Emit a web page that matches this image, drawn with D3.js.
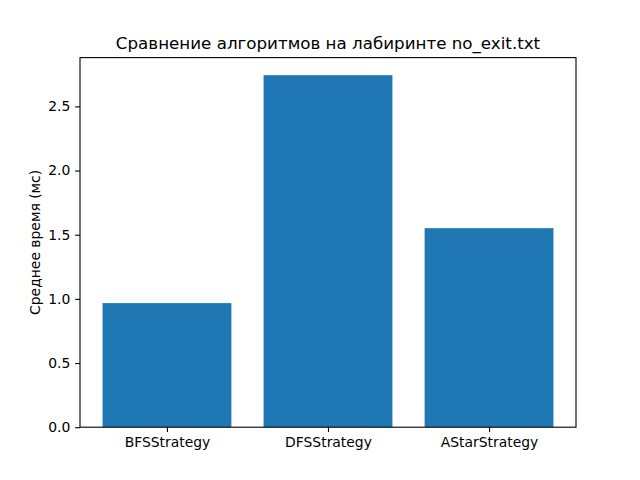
<!DOCTYPE html>
<html><head><meta charset="utf-8">
<script src="https://cdn.jsdelivr.net/npm/d3@7"></script>
<style>body{margin:0;background:#fff}svg{display:block}text{font-family:"DejaVu Sans",sans-serif}</style>
</head><body>
<script>
const categories = ["BFSStrategy", "DFSStrategy", "AStarStrategy"];
const values = [0.967, 2.743, 1.551];
const yTicks = [0, 0.5, 1.0, 1.5, 2.0, 2.5];
const title = "Сравнение алгоритмов на лабиринте no_exit.txt";
const yLabel = "Среднее время (мс)";

const W = 640, H = 480;
const L = 80, R = 576, T = 57.6, B = 427.2;
const svg = d3.select("body").append("svg").attr("width", W).attr("height", H);

const bw = 0.8;
const x0 = -bw/2, x1 = categories.length - 1 + bw/2;
const mx = (x1 - x0) * 0.05;
const x = d3.scaleLinear().domain([x0 - mx, x1 + mx]).range([L, R]);
const ymax = d3.max(values) * 1.05;
const y = d3.scaleLinear().domain([0, ymax]).range([B, T]);

svg.append("g").selectAll("rect").data(values).join("rect")
  .attr("x", (d,i) => x(i - bw/2))
  .attr("width", (d,i) => x(i + bw/2) - x(i - bw/2))
  .attr("y", d => y(d))
  .attr("height", d => y(0) - y(d))
  .attr("fill", "#1f77b4");

const fs = 13.9;
const xAxis = d3.axisBottom(x).tickValues(categories.map((c,i)=>i))
  .tickFormat(i => categories[i]).tickSize(4.86).tickPadding(4.86);
const gx = svg.append("g").attr("transform", `translate(0,${B})`).call(xAxis);
const yAxis = d3.axisLeft(y).tickValues(yTicks).tickFormat(d3.format(".1f"))
  .tickSize(4.86).tickPadding(4.86);
const gy = svg.append("g").attr("transform", `translate(${L},0)`).call(yAxis);
[gx, gy].forEach(g => {
  g.select(".domain").remove();
  g.selectAll("line").attr("stroke", "#000").attr("stroke-width", 1.1);
  g.selectAll("text").attr("font-size", fs).attr("fill", "#000")
   .attr("font-family", "DejaVu Sans");
});

svg.append("rect").attr("x", L).attr("y", T).attr("width", R - L).attr("height", B - T)
  .attr("fill", "none").attr("stroke", "#000").attr("stroke-width", 1.1);

svg.append("text").attr("x", (L + R)/2).attr("y", T - 8.3)
  .attr("text-anchor", "middle").attr("font-size", 16.7).text(title);

svg.append("text").attr("transform", `translate(40,${(T + B)/2}) rotate(-90)`)
  .attr("text-anchor", "middle").attr("font-size", fs).text(yLabel);
</script>
</body></html>
